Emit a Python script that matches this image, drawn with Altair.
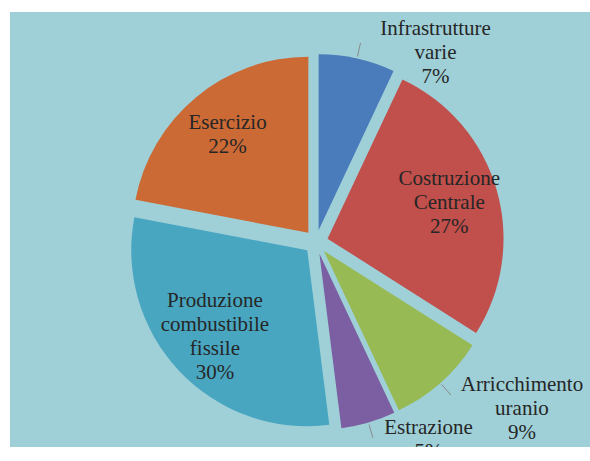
import altair as alt
import numpy as np
import pandas as pd

# ---- data ----
categories = [
    "Infrastrutture varie",
    "Costruzione Centrale",
    "Arricchimento uranio",
    "Estrazione",
    "Produzione combustibile fissile",
    "Esercizio",
]
values = [7, 27, 9, 5, 30, 22]
label_text = [
    "Infrastrutture\nvarie\n7%",
    "Costruzione\nCentrale\n27%",
    "Arricchimento\nuranio\n9%",
    "Estrazione\n5%",
    "Produzione\ncombustibile\nfissile\n30%",
    "Esercizio\n22%",
]
colors = ["#4a7bba", "#c14f4b", "#98ba55", "#7c5ea3", "#48a6c1", "#cb6a35"]

# ---- layout / style ----
W, H = 580, 435
CX, CY = 306, 230
R = 176
EXPLODE = 12
FS = 21
LH = 24

v = np.array(values, dtype=float)
end = np.cumsum(v)
start = end - v
total = v.sum()
mid = (start + v / 2) / total * 2 * np.pi
sn, cs = np.sin(mid), np.cos(mid)
ox = CX + EXPLODE * sn
oy = CY - EXPLODE * cs
inside = v >= 20
nlines = np.array([t.count("\n") + 1 for t in label_text])
halfw = np.array([max(len(s) for s in t.split("\n")) * 4.9 for t in label_text])

lx, ly = [], []
for i in range(len(v)):
    if inside[i]:
        r = 0.72 * R
        cx_ = ox[i] + r * sn[i]
        cy2 = oy[i] - r * cs[i]
        # vega places the first line at y; centre the block instead
        first = cy2 - (nlines[i] - 1) * LH / 2
    else:
        r = R + 30
        ax = CX + r * sn[i]
        cy2 = CY - r * cs[i]
        cx_ = ax + np.sign(sn[i]) * (halfw[i] + 6)
        # leader end sits between the first two lines
        first = cy2 - LH / 2
    lx.append(cx_)
    ly.append(first)

df = pd.DataFrame({
    "category": categories,
    "value": values,
    "start": start,
    "end": end,
    "ox": ox,
    "oy": oy,
    "label": label_text,
    "lx": lx,
    "ly": ly,
    "inside": inside,
    "x1": CX + (R + EXPLODE + 2) * sn,
    "y1": CY - (R + EXPLODE + 2) * cs,
    "x2": CX + (R + 28) * sn,
    "y2": CY - (R + 28) * cs,
})

theta_scale = alt.Scale(domain=[0, float(total)], range=[0, 2 * np.pi])

arcs = alt.Chart(df).mark_arc(outerRadius=R).encode(
    theta=alt.Theta("start:Q", scale=theta_scale),
    theta2="end:Q",
    x=alt.X("ox:Q", scale=None),
    y=alt.Y("oy:Q", scale=None),
    color=alt.Color("category:N", scale=alt.Scale(domain=categories, range=colors), legend=None),
)

leaders = alt.Chart(df).transform_filter("!datum.inside").mark_rule(
    color="#8a8a8a", strokeWidth=1
).encode(
    x=alt.X("x1:Q", scale=None),
    y=alt.Y("y1:Q", scale=None),
    x2="x2:Q",
    y2="y2:Q",
)

labels = alt.Chart(df).mark_text(
    font="Liberation Serif",
    fontSize=FS,
    lineHeight=LH,
    lineBreak="\n",
    align="center",
    baseline="middle",
    color="#262626",
    clip=True,
).encode(
    x=alt.X("lx:Q", scale=None),
    y=alt.Y("ly:Q", scale=None),
    text="label:N",
)

chart = alt.layer(arcs, leaders, labels).properties(
    width=W,
    height=H,
    padding={"left": 10, "top": 12, "right": 0, "bottom": 14},
    autosize=alt.AutoSizeParams(type="none"),
    background="white",
).configure_view(fill="#9fd0d8", stroke=None)

chart.save("out.html", embed_options={"renderer": "svg", "actions": False})
